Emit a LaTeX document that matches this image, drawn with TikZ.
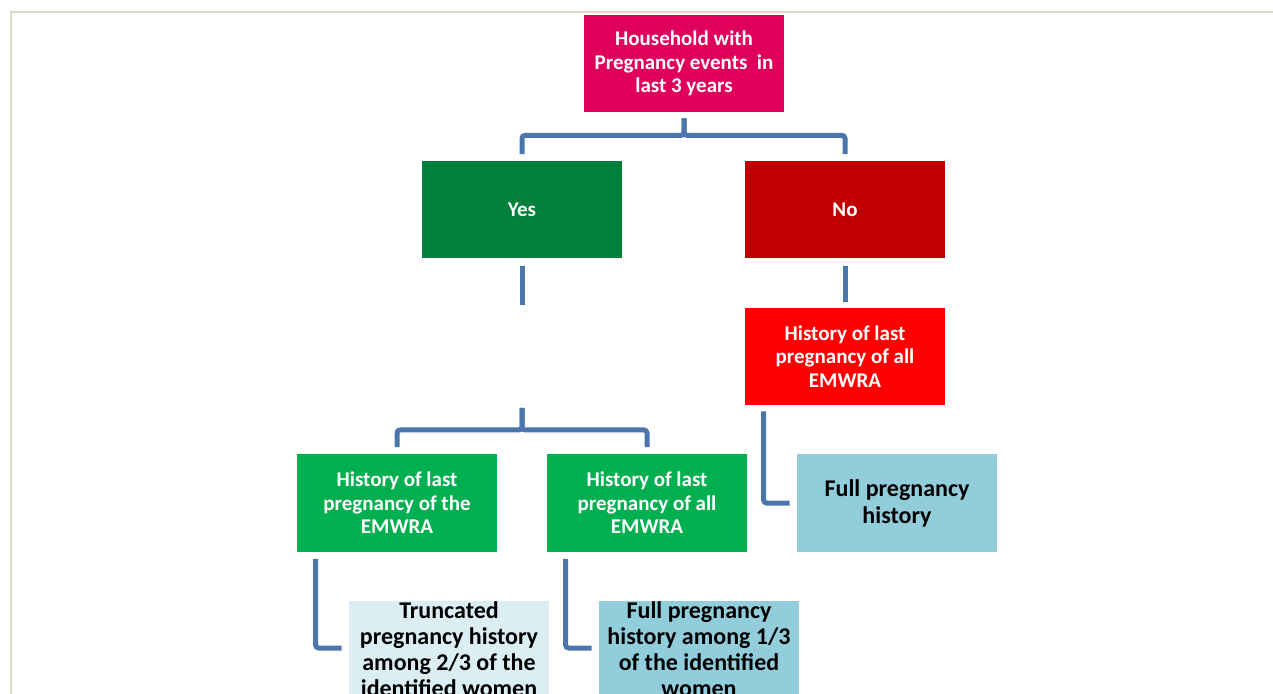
\documentclass[tikz,border=0pt]{standalone}
\usepackage{fontspec}
\setmainfont{Carlito}
\usetikzlibrary{positioning}
\definecolor{hhpink}{RGB}{222,0,90}
\definecolor{yesgreen}{RGB}{0,128,58}
\definecolor{nored}{RGB}{192,0,0}
\definecolor{brightred}{RGB}{255,0,0}
\definecolor{midgreen}{RGB}{0,176,80}
\definecolor{lightblue}{RGB}{146,205,220}
\definecolor{paleblue}{RGB}{218,238,243}
\definecolor{linkblue}{RGB}{74,118,172}
\definecolor{framecol}{RGB}{221,217,195}

\begin{document}
\begin{tikzpicture}[x=0.5pt,y=-0.5pt,
white node/.style={rectangle,minimum width=100pt,minimum height=48.5pt,inner sep=0pt,align=center,text=white,font=\bfseries\fontsize{10.5}{11.8}\selectfont},
black node/.style={rectangle,minimum width=100pt,minimum height=48.5pt,inner sep=0pt,align=center,text=black,font=\bfseries\fontsize{12}{13}\selectfont},
link/.style={draw=linkblue,line width=2.5pt,rounded corners=1.5pt}]

\useasboundingbox (0,0) rectangle (1273,694);
\clip (0,0) rectangle (1273,694);
\draw[framecol,line width=1pt] (11,694) -- (11,12) -- (1273,12);

% boxes
\node[white node,fill=hhpink] (hh) at (684,63.5) {Household with\\Pregnancy events\ \ in\\last 3 years};
\node[white node,fill=yesgreen] (yes) at (522,210) {Yes};
\node[white node,fill=nored] (no) at (845,210) {No};
\node[white node,fill=brightred] (nolast) at (845,356.5) {History of last\\pregnancy of all\\EMWRA};
\node[white node,fill=midgreen] (yeslast1) at (397,503) {History of last\\pregnancy of the\\EMWRA};
\node[white node,fill=midgreen] (yeslast2) at (647,503) {History of last\\pregnancy of all\\EMWRA};
\node[black node,fill=lightblue,font=\bfseries\fontsize{12}{13.5}\selectfont] (nofull) at (897,503) {Full pregnancy\\history};
\node[black node,fill=paleblue] (trunc) at (449,649.5) {Truncated\\pregnancy history\\among 2/3 of the\\identified women};
\node[black node,fill=lightblue] (fullthird) at (699,649.5) {Full pregnancy\\history among 1/3\\of the identified\\women};

\coordinate (yesend) at (522,305);
\coordinate (split) at (522,408);

% connectors
\draw[link,shorten <=3pt,shorten >=3.5pt] (hh.south) -- ++(0,23) -| (yes.north);
\draw[link,shorten <=3pt,shorten >=3.5pt] (hh.south) -- ++(0,23) -| (no.north);
\draw[link,shorten <=3.5pt] (yes.south) -- (yesend);
\draw[link,shorten >=3.5pt] (split) -- ++(0,22) -| (yeslast1.north);
\draw[link,shorten >=3.5pt] (split) -- ++(0,22) -| (yeslast2.north);
\draw[link,shorten <=3.5pt,shorten >=3pt] (no.south) -- (nolast.north);
\draw[link,shorten <=3pt,shorten >=3.5pt] ([xshift=9.5pt]nolast.south west) |- (nofull.west);
\draw[link,shorten <=3.5pt,shorten >=3.5pt] ([xshift=9.5pt]yeslast1.south west) |- ([yshift=0.75pt]trunc.west);
\draw[link,shorten <=3.5pt,shorten >=3.5pt] ([xshift=9.5pt]yeslast2.south west) |- ([yshift=0.75pt]fullthird.west);
\end{tikzpicture}
\end{document}
